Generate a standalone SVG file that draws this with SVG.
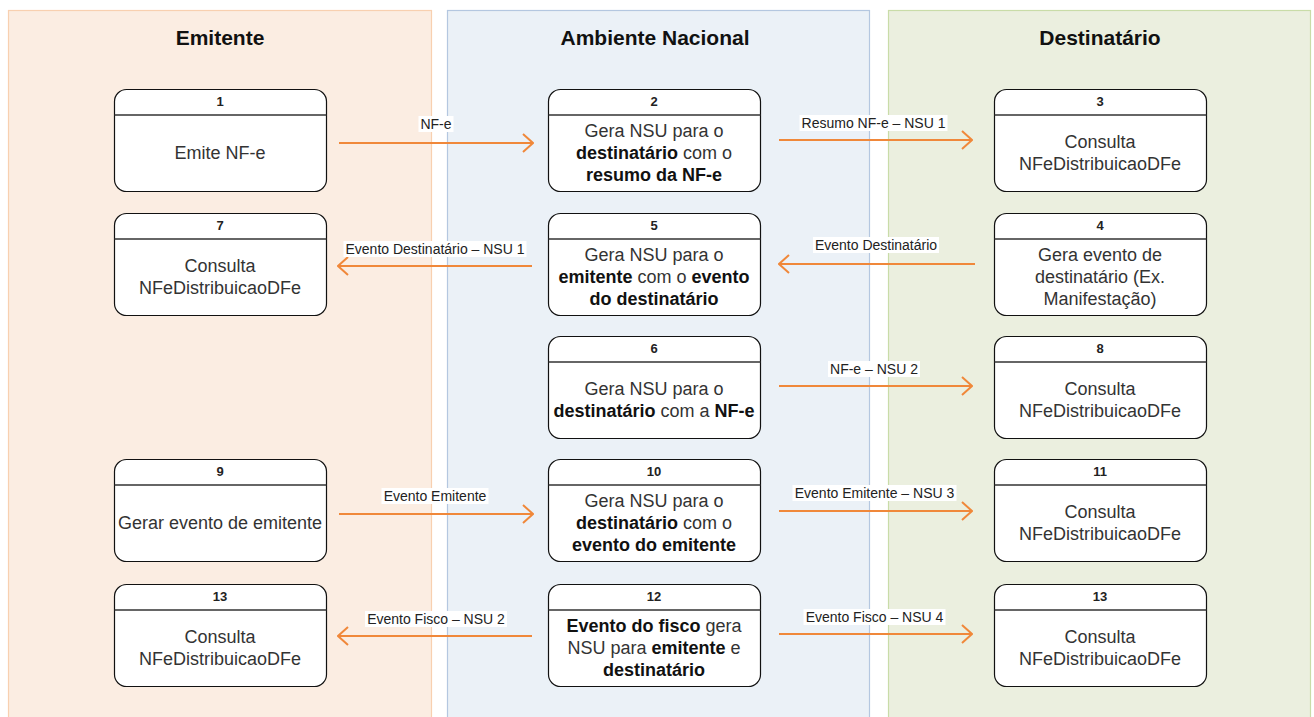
<svg xmlns="http://www.w3.org/2000/svg" width="1314" height="717" viewBox="0 0 1314 717">
<defs>
<marker id="open" viewBox="0 0 12 20" refX="11" refY="10" markerWidth="12" markerHeight="20" markerUnits="userSpaceOnUse" orient="auto">
<path d="M1,1 L11,10 L1,19" fill="none" stroke="#F0883A" stroke-width="2"/>
</marker>
<style>
.lane-title{font-family:"Liberation Sans",Arial,sans-serif;font-size:21px;font-weight:bold;fill:#111;text-anchor:middle}
.box{fill:#fff;stroke:#111;stroke-width:1.2}
.div{stroke:#333;stroke-width:1.6}
.num{font-family:"Liberation Sans",Arial,sans-serif;font-size:13px;font-weight:bold;fill:#222;text-anchor:middle}
.body{font-family:"Liberation Sans",Arial,sans-serif;font-size:18px;fill:#333;text-anchor:middle}
.b{font-weight:bold;fill:#111}
.edge{stroke:#F0883A;stroke-width:2;fill:none;marker-end:url(#open)}
.lbg{fill:#fff}
.lbl{font-family:"Liberation Sans",Arial,sans-serif;font-size:14px;fill:#222;text-anchor:middle}
</style>
</defs>
<rect width="1314" height="717" fill="#fff"/>
<g id="lanes">
<g id="lane-emitente">
<rect x="8.5" y="10.5" width="423" height="720" fill="#FBEDE2" stroke="#F8D0B0" stroke-width="1.2"/>
<text class="lane-title" x="220" y="45">Emitente</text>
</g>
<g id="lane-ambiente">
<rect x="447.5" y="10.5" width="422" height="720" fill="#EBF1F7" stroke="#B4C7E0" stroke-width="1.2"/>
<text class="lane-title" x="655" y="45">Ambiente Nacional</text>
</g>
<g id="lane-destinatario">
<rect x="888.5" y="10.5" width="422" height="720" fill="#EBEFDF" stroke="#C9DCA8" stroke-width="1.2"/>
<text class="lane-title" x="1100" y="45">Destinatário</text>
</g>
</g>
<g id="connectors">
<line class="edge" x1="339" y1="143" x2="533" y2="143"/>
<line class="edge" x1="779" y1="140" x2="972" y2="140"/>
<line class="edge" x1="532" y1="266" x2="338" y2="266"/>
<line class="edge" x1="975" y1="264" x2="779" y2="264"/>
<line class="edge" x1="779" y1="386" x2="972" y2="386"/>
<line class="edge" x1="339" y1="514" x2="533" y2="514"/>
<line class="edge" x1="779" y1="511" x2="972" y2="511"/>
<line class="edge" x1="532" y1="636" x2="338" y2="636"/>
<line class="edge" x1="779" y1="634" x2="972" y2="634"/>
<g id="labels">
<rect class="lbg" x="418.5" y="116" width="35" height="16"/><text class="lbl" x="436" y="129">NF-e</text>
<rect class="lbg" x="799.5" y="115" width="148" height="16"/><text class="lbl" x="873.5" y="128">Resumo NF-e – NSU 1</text>
<rect class="lbg" x="343.5" y="241" width="183" height="16"/><text class="lbl" x="435" y="254">Evento Destinatário – NSU 1</text>
<rect class="lbg" x="813" y="237" width="126" height="16"/><text class="lbl" x="876" y="250">Evento Destinatário</text>
<rect class="lbg" x="828" y="361" width="92" height="16"/><text class="lbl" x="874" y="374">NF-e – NSU 2</text>
<rect class="lbg" x="381.5" y="488" width="107" height="16"/><text class="lbl" x="435" y="501">Evento Emitente</text>
<rect class="lbg" x="792.5" y="485" width="164" height="16"/><text class="lbl" x="874.5" y="498">Evento Emitente – NSU 3</text>
<rect class="lbg" x="365" y="611" width="142" height="16"/><text class="lbl" x="436" y="624">Evento Fisco – NSU 2</text>
<rect class="lbg" x="803.5" y="609" width="142" height="16"/><text class="lbl" x="874.5" y="622">Evento Fisco – NSU 4</text>
</g>
</g>
<g id="node-1">
<rect class="box" x="114.5" y="89.5" width="212" height="102" rx="12"/>
<line class="div" x1="114.5" y1="115" x2="326.5" y2="115"/>
<text class="num" x="220" y="106">1</text>
<text class="body" x="220" y="159">Emite NF-e</text>
</g>
<g id="node-2">
<rect class="box" x="548.5" y="89.5" width="212" height="102" rx="12"/>
<line class="div" x1="548.5" y1="115" x2="760.5" y2="115"/>
<text class="num" x="654" y="106">2</text>
<text class="body" x="654" y="137">Gera NSU para o</text>
<text class="body" x="654" y="159"><tspan class="b">destinatário</tspan> com o</text>
<text class="body b" x="654" y="181">resumo da NF-e</text>
</g>
<g id="node-3">
<rect class="box" x="994.5" y="89.5" width="212" height="102" rx="12"/>
<line class="div" x1="994.5" y1="115" x2="1206.5" y2="115"/>
<text class="num" x="1100" y="106">3</text>
<text class="body" x="1100" y="148">Consulta</text>
<text class="body" x="1100" y="170">NFeDistribuicaoDFe</text>
</g>
<g id="node-7">
<rect class="box" x="114.5" y="213.5" width="212" height="102" rx="12"/>
<line class="div" x1="114.5" y1="239" x2="326.5" y2="239"/>
<text class="num" x="220" y="230">7</text>
<text class="body" x="220" y="272">Consulta</text>
<text class="body" x="220" y="294">NFeDistribuicaoDFe</text>
</g>
<g id="node-5">
<rect class="box" x="548.5" y="213.5" width="212" height="102" rx="12"/>
<line class="div" x1="548.5" y1="239" x2="760.5" y2="239"/>
<text class="num" x="654" y="230">5</text>
<text class="body" x="654" y="261">Gera NSU para o</text>
<text class="body" x="654" y="283"><tspan class="b">emitente</tspan> com o <tspan class="b">evento</tspan></text>
<text class="body b" x="654" y="305">do destinatário</text>
</g>
<g id="node-4">
<rect class="box" x="994.5" y="213.5" width="212" height="102" rx="12"/>
<line class="div" x1="994.5" y1="239" x2="1206.5" y2="239"/>
<text class="num" x="1100" y="230">4</text>
<text class="body" x="1100" y="261">Gera evento de</text>
<text class="body" x="1100" y="283">destinatário (Ex.</text>
<text class="body" x="1100" y="305">Manifestação)</text>
</g>
<g id="node-6">
<rect class="box" x="548.5" y="336.5" width="212" height="102" rx="12"/>
<line class="div" x1="548.5" y1="362" x2="760.5" y2="362"/>
<text class="num" x="654" y="353">6</text>
<text class="body" x="654" y="395">Gera NSU para o</text>
<text class="body" x="654" y="417"><tspan class="b">destinatário</tspan> com a <tspan class="b">NF-e</tspan></text>
</g>
<g id="node-8">
<rect class="box" x="994.5" y="336.5" width="212" height="102" rx="12"/>
<line class="div" x1="994.5" y1="362" x2="1206.5" y2="362"/>
<text class="num" x="1100" y="353">8</text>
<text class="body" x="1100" y="395">Consulta</text>
<text class="body" x="1100" y="417">NFeDistribuicaoDFe</text>
</g>
<g id="node-9">
<rect class="box" x="114.5" y="459.5" width="212" height="102" rx="12"/>
<line class="div" x1="114.5" y1="485" x2="326.5" y2="485"/>
<text class="num" x="220" y="476">9</text>
<text class="body" x="220" y="529">Gerar evento de emitente</text>
</g>
<g id="node-10">
<rect class="box" x="548.5" y="459.5" width="212" height="102" rx="12"/>
<line class="div" x1="548.5" y1="485" x2="760.5" y2="485"/>
<text class="num" x="654" y="476">10</text>
<text class="body" x="654" y="507">Gera NSU para o</text>
<text class="body" x="654" y="529"><tspan class="b">destinatário</tspan> com o</text>
<text class="body b" x="654" y="551">evento do emitente</text>
</g>
<g id="node-11">
<rect class="box" x="994.5" y="459.5" width="212" height="102" rx="12"/>
<line class="div" x1="994.5" y1="485" x2="1206.5" y2="485"/>
<text class="num" x="1100" y="476">11</text>
<text class="body" x="1100" y="518">Consulta</text>
<text class="body" x="1100" y="540">NFeDistribuicaoDFe</text>
</g>
<g id="node-13-emitente">
<rect class="box" x="114.5" y="584.5" width="212" height="102" rx="12"/>
<line class="div" x1="114.5" y1="610" x2="326.5" y2="610"/>
<text class="num" x="220" y="601">13</text>
<text class="body" x="220" y="643">Consulta</text>
<text class="body" x="220" y="665">NFeDistribuicaoDFe</text>
</g>
<g id="node-12">
<rect class="box" x="548.5" y="584.5" width="212" height="102" rx="12"/>
<line class="div" x1="548.5" y1="610" x2="760.5" y2="610"/>
<text class="num" x="654" y="601">12</text>
<text class="body" x="654" y="632"><tspan class="b">Evento do fisco</tspan> gera</text>
<text class="body" x="654" y="654">NSU para <tspan class="b">emitente</tspan> e</text>
<text class="body b" x="654" y="676">destinatário</text>
</g>
<g id="node-13-destinatario">
<rect class="box" x="994.5" y="584.5" width="212" height="102" rx="12"/>
<line class="div" x1="994.5" y1="610" x2="1206.5" y2="610"/>
<text class="num" x="1100" y="601">13</text>
<text class="body" x="1100" y="643">Consulta</text>
<text class="body" x="1100" y="665">NFeDistribuicaoDFe</text>
</g>
</svg>
